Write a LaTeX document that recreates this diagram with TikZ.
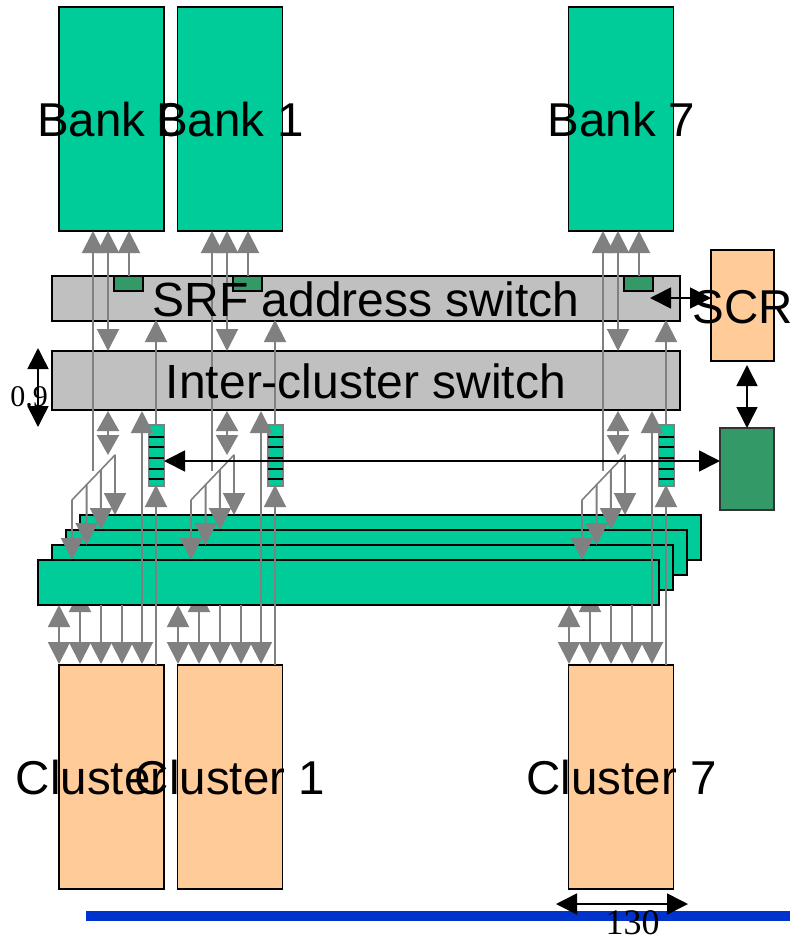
\documentclass[tikz,border=0pt]{standalone}
\usepackage{fontspec}
\setmainfont{Liberation Sans}
\newfontfamily\tmsfont{Liberation Serif}
\usetikzlibrary{arrows.meta,calc}
\definecolor{teal1}{HTML}{00CC99}
\definecolor{peach}{HTML}{FFCC99}
\definecolor{dgreen}{HTML}{339966}
\definecolor{swgray}{HTML}{C0C0C0}
\definecolor{wire}{HTML}{808080}
\definecolor{rail}{HTML}{0033CC}
\tikzset{
  >={Triangle[length=21pt,width=21pt]},
  boxn/.style={draw=black,line width=1.9pt,inner sep=0pt,outer sep=0pt,anchor=north west},
  bankbox/.style={boxn,fill=teal1,minimum width=105pt,minimum height=224pt},
  clusbox/.style={boxn,fill=peach,minimum width=105pt,minimum height=224pt},
  layerbox/.style={boxn,fill=teal1,minimum width=621pt,minimum height=45pt},
  swbox/.style={boxn,fill=swgray,minimum width=628pt},
  tagbox/.style={boxn,fill=dgreen,minimum width=29pt,minimum height=15pt},
  fifobox/.style={draw=wire,line width=1.7pt,fill=teal1,inner sep=0pt,outer sep=0pt,anchor=north west,minimum width=15pt,minimum height=61pt},
  bigtxt/.style={inner sep=0pt,anchor=base,font=\fontsize{47.5}{50}\selectfont},
  swtxt/.style={inner sep=0pt,anchor=base,font=\fontsize{48}{50}\selectfont},
  dimtxt/.style={inner sep=0pt,text=black},
  gwire/.style={draw=wire,line width=2pt,>={Triangle[length=22pt,width=22pt]}},
  gshort/.style={draw=wire,line width=2pt,>={Triangle[length=20pt,width=22pt]}},
  bwire/.style={draw=black,line width=1.6pt},
  stripe/.style={draw=black,line width=2.4pt}
}
\begin{document}
\begin{tikzpicture}[x=1pt,y=-1pt]
\useasboundingbox (0,0) rectangle (790,935);
% stacked layers
\node[layerbox] (lay4) at (80,515) {};
\node[layerbox] (lay3) at (66,530) {};
\node[layerbox] (lay2) at (52,545) {};
% wires that pass behind the front layer
\foreach \c/\o in {0/0,1/119,7/510}{
  \begin{scope}[xshift=\o pt]
    \coordinate (hidT\c) at (80,590);
    \coordinate (hidB\c) at (80,664);
    \draw[gwire,<->] (hidT\c) -- (hidB\c);
  \end{scope}
}
\node[layerbox] (lay1) at (38,560) {};
% switches
\node[swbox,minimum height=45pt] (srf) at (52,276) {};
\node[swbox,minimum height=59pt] (inter) at (52,351) {};
% control blocks
\node[boxn,fill=peach,minimum width=63pt,minimum height=111pt] (scr) at (711,250) {};
\node[boxn,fill=dgreen,minimum width=54pt,minimum height=82pt,draw=black!80] (ctl) at (720,428) {};
\coordinate (srfin) at (650,298);
\coordinate (scrl) at (711,298);
\coordinate (scrb) at (747,365);
\coordinate (ctlt) at (747,428);
\coordinate (busL) at (164,461);
\coordinate (busR) at (720,461);
% banks and clusters, each box painted over the label before it
\foreach \c/\o/\bx/\lx in {0/0/59/111,1/119/58.5/111,7/510/58.5/111.5}{
  \begin{scope}[xshift=\o pt]
    \node[bankbox] (bank\c) at (\bx,7) {};
    \node[bigtxt] (tb\c) at (\lx,136.5) {Bank \c};
    \node[clusbox] (clus\c) at (\bx,665) {};
    \node[bigtxt] (tc\c) at (\lx,794.5) {Cluster \c};
  \end{scope}
}
% columns
\foreach \c/\o in {0/0,1/119,7/510}{
  \begin{scope}[xshift=\o pt]
    \node[tagbox] (tag\c) at (114,276) {};
    \node[fifobox] (fifo\c) at (149,425) {};
    \foreach \s/\yy in {1/437,2/447,3/458,4/469,5/479}{
      \coordinate (sl\c\s) at (149,\yy);
      \coordinate (sr\c\s) at (164,\yy);
      \draw[stripe] (sl\c\s) -- (sr\c\s);
    }
    % named wire ends
    \coordinate (aT\c) at (93,231);
    \coordinate (aB\c) at (93,471);
    \coordinate (bT\c) at (108,231);
    \coordinate (bB\c) at (108,351);
    \coordinate (cT\c) at (129,231);
    \coordinate (cB\c) at (129,276);
    \coordinate (dT\c) at (156,320);
    \coordinate (dB\c) at (156,425);
    \coordinate (eT\c) at (156,485);
    \coordinate (eB\c) at (156,665);
    \coordinate (fT\c) at (108,411);
    \coordinate (fB\c) at (108,455);
    \coordinate (gT\c) at (142,411);
    \coordinate (gB\c) at (142,664);
    \coordinate (p\c) at (115,455);
    \coordinate (q\c) at (72,500);
    \coordinate (pt\c) at (115,515);
    \coordinate (m\c) at ($(p\c)!.326!(q\c)$);
    \coordinate (mt\c) at (101,530);
    \coordinate (n\c) at ($(p\c)!.66!(q\c)$);
    \coordinate (nt\c) at (86.6,545);
    \coordinate (qt\c) at (72,560);
    \coordinate (hT\c) at (59,605);
    \coordinate (hB\c) at (59,664);
    \coordinate (iT\c) at (101,605);
    \coordinate (iB\c) at (101,664);
    \coordinate (jT\c) at (122,605);
    \coordinate (jB\c) at (122,664);
    % wires
    \draw[gwire,->] (aB\c) -- (aT\c);
    \draw[gwire,<->] (bT\c) -- (bB\c);
    \draw[gwire,->] (cB\c) -- (cT\c);
    \draw[gwire,->] (dB\c) -- (dT\c);
    \draw[gwire,->] (eB\c) -- (eT\c);
    \draw[gshort,<->] (fT\c) -- (fB\c);
    \draw[gwire,<->] (gT\c) -- (gB\c);
    \draw[gwire,line width=1.6pt,line cap=round] (p\c) -- (q\c);
    \draw[gwire,->] (p\c) -- (pt\c);
    \draw[gwire,->] (m\c) -- (mt\c);
    \draw[gwire,->] (n\c) -- (nt\c);
    \draw[gwire,->] (q\c) -- (qt\c);
    \draw[gwire,<->] (hT\c) -- (hB\c);
    \draw[gwire,->] (iT\c) -- (iB\c);
    \draw[gwire,->] (jT\c) -- (jB\c);
  \end{scope}
}
% black connectors
\draw[bwire,<->] (busL) -- (busR);
\draw[bwire,<->] (srfin) -- (scrl);
\draw[bwire,<->] (scrb) -- (ctlt);
% labels
\node[swtxt] (tsrf) at (366,316.5) {SRF address switch};
\node[swtxt] (tint) at (366,398.5) {Inter-cluster switch};
\node[bigtxt] (tscr) at (743,323) {SCR};
% dimensions
\fill[rail] (86,911) rectangle (790,921);
\coordinate (dimT) at (38,348);
\coordinate (dimB) at (38,427);
\draw[bwire,<->] (dimT) -- (dimB);
\coordinate (dimL) at (556,904);
\coordinate (dimR) at (688,904);
\draw[bwire,<->] (dimL) -- (dimR);
\node[dimtxt,font=\tmsfont\fontsize{30}{32}\selectfont] (t09) at (29,397) {0.9};
\node[dimtxt,font=\tmsfont\fontsize{36}{38}\selectfont,anchor=base] (t130) at (632.5,934) {130};
\end{tikzpicture}
\end{document}
